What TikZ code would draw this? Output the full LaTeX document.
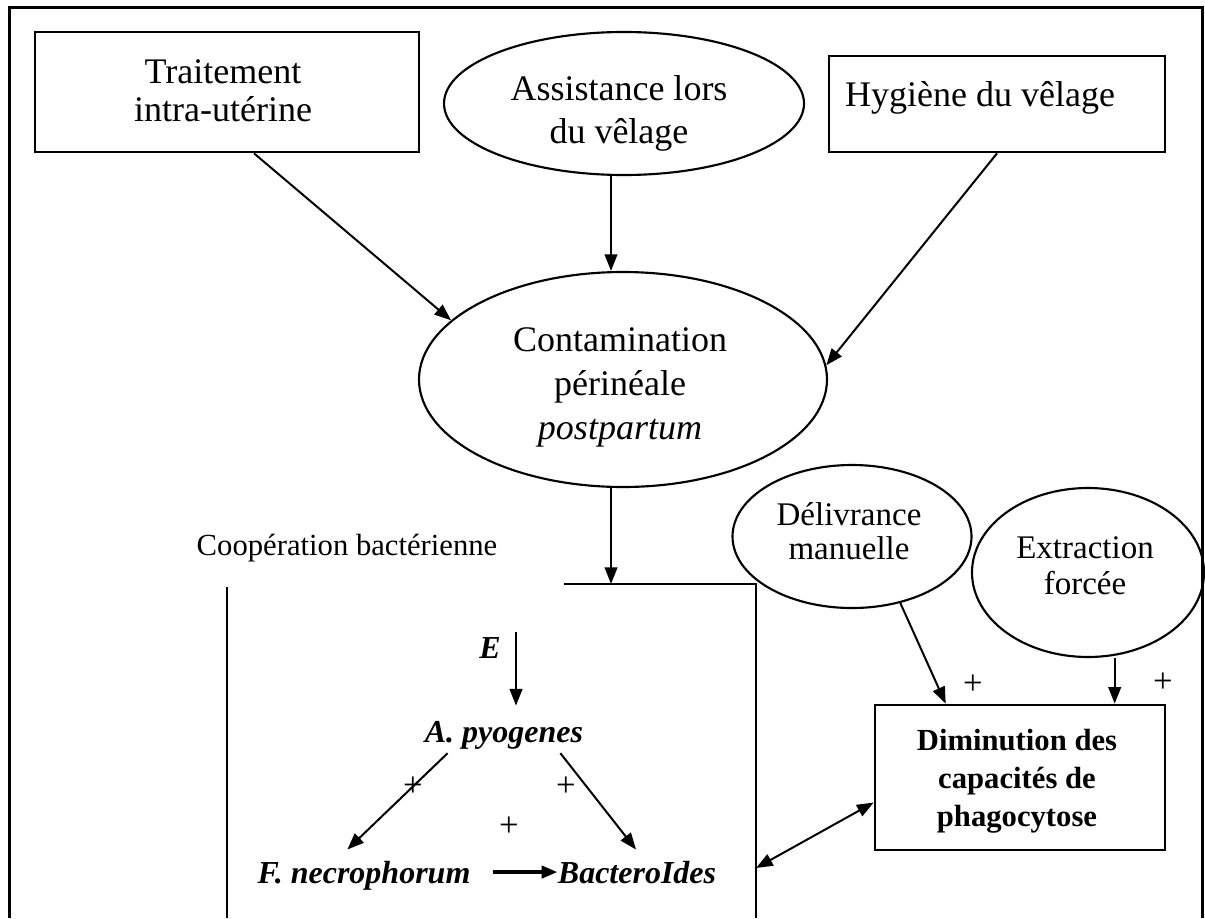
\documentclass[tikz,border=0pt]{standalone}
\usepackage{fontspec}
\setmainfont{Liberation Serif}
\usetikzlibrary{arrows.meta,calc,shapes.geometric}
\begin{document}
\begin{tikzpicture}[x=0.75pt,y=-0.75pt,
  shapeline/.style={draw=black,line width=1.6pt,inner sep=0pt},
  boxnode/.style={shapeline,rectangle,line width=2pt},
  ovalnode/.style={shapeline,ellipse},
  txt/.style={inner sep=0pt,align=center,text=black},
  big/.style={txt,font=\fontsize{27}{28.5}\selectfont},
  mid/.style={txt,font=\fontsize{24.75}{25.5}\selectfont},
  bact/.style={txt,font=\bfseries\itshape\fontsize{24}{24}\selectfont},
  arr/.style={line width=1.5pt,-{Triangle[length=12.5pt,width=9.5pt]}},
  dblarr/.style={line width=1.5pt,{Triangle[length=12.5pt,width=9.5pt]}-{Triangle[length=12.5pt,width=9.5pt]}},
  plainline/.style={line width=1.6pt},
  frameline/.style={line width=2.25pt},
  plus/.style={inner sep=0pt,font=\fontsize{26}{26}\selectfont},
]
\useasboundingbox (0,0) rectangle (1205,918);

% outer frame
\draw[frameline] (9,918) -- (9,7) -- (1202,7) -- (1202,918);

% shapes
\node[boxnode,minimum width=288pt,minimum height=90pt] (trait) at (227,92) {};
\node[ovalnode,minimum width=270pt,minimum height=107.25pt] (assist) at (624,103.5) {};
\node[boxnode,minimum width=252pt,minimum height=72pt] (hyg) at (997,104) {};
\node[ovalnode,minimum width=306pt,minimum height=161.25pt] (cont) at (623,379.5) {};
\node[ovalnode,minimum width=179.25pt,minimum height=107.25pt] (deliv) at (852,536.5) {};
\node[ovalnode,minimum width=174pt,minimum height=126.75pt] (extr) at (1088,572.5) {};
\node[boxnode,minimum width=217.5pt,minimum height=108.75pt] (dimin) at (1020,777.5) {};

% texts
\node[big] (traitT) at (223,91) {Traitement\\intra-utérine};
\node[big,font=\fontsize{27}{32.25}\selectfont] (assistT) at (619,113.5) {Assistance lors\\du vêlage};
\node[big] (hygT) at (980,98) {Hygiène du vêlage};
\node[big,font=\fontsize{27}{33}\selectfont] (contT) at (620,387) {Contamination\\périnéale\\\textit{postpartum}};
\node[txt,font=\fontsize{23}{23}\selectfont] (coop) at (347,548) {Coopération bactérienne};
\node[mid] (delivT) at (849,531) {Délivrance\\manuelle};
\node[mid,font=\fontsize{24.75}{27}\selectfont] (extrT) at (1085,566) {Extraction\\forcée};
\node[txt,font=\bfseries\fontsize{23}{28.5}\selectfont] (diminT) at (1017,781) {Diminution des\\capacités de\\phagocytose};

% bacteria
\node[bact,anchor=base] (E) at (490,658) {E};
\node[bact,anchor=base] (apyo) at (504,742) {A. pyogenes};
\node[bact,anchor=base] (fnec) at (364,883) {F. necrophorum};
\node[bact,anchor=base] (bacter) at (637,883) {BacteroIdes};

% plus signs
\node[plus] (p1) at (973,685) {+};
\node[plus] (p2) at (1163,683) {+};
\node[plus] (p3) at (413,787) {+};
\node[plus] (p4) at (566,787) {+};
\node[plus] (p5) at (509,827) {+};

% bracket lines
\coordinate (brL) at (564,584);
\coordinate (jn) at (611,584);
\coordinate (brR) at (756,584);
\coordinate (brB) at (756,918);
\coordinate (brX) at (756,868);
\coordinate (lt) at (227,587);
\coordinate (lb) at (227,918);
\draw[plainline] (brL) -- (brR) -- (brB);
\draw[plainline] (lt) -- (lb);

% connectors
\draw[arr] ($(trait.south)+(27,0)$) -- (cont.161);
\draw[arr] ($(assist.south)+(-13,0)$) -- ($(cont.north)+(-12,0)$);
\draw[arr] (hyg.south) -- (cont.4);
\draw[arr] ($(cont.south)+(-12,0)$) -- (jn);

\coordinate (etop) at (516,632);
\draw[arr] (etop) -- ($(etop |- apyo.north)+(0,-15)$);
\draw[arr] ($(apyo.south west)+(23,4)$) -- ($(fnec.north west)+(90,-11)$);
\draw[arr] ($(apyo.south east)+(-23,4)$) -- ($(bacter.north)+(-1,-11)$);
\coordinate (fa) at ($(fnec.east)+(22,0)$);
\draw[line width=3pt,-{Triangle[length=12pt,width=9pt]}] (fa |- bacter.west) -- (bacter.west);

\draw[arr] (deliv.-54) -- ($(dimin.north west)+(72,0)$);
\coordinate (xt) at ($(dimin.north west)+(241,0)$);
\draw[arr] (xt |- extr.south) -- (xt);
\draw[dblarr] ($(dimin.west)+(0,25)$) -- (brX);
\end{tikzpicture}
\end{document}
